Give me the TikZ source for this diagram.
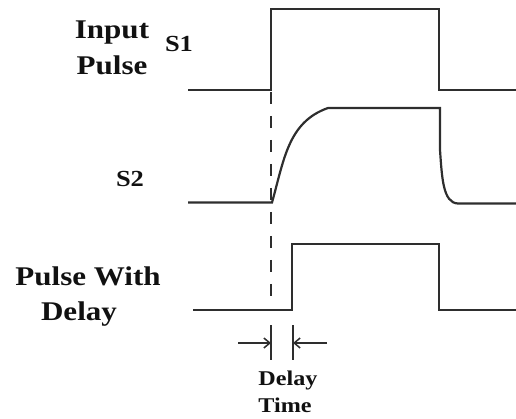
\documentclass[tikz,border=0pt]{standalone}
\usepackage{fontspec}
\usepackage{graphicx}
\setmainfont{Liberation Serif}
\usetikzlibrary{arrows.meta}
\definecolor{wave}{HTML}{2E2E2E}
\definecolor{ink}{HTML}{111111}
\tikzset{
  wavel/.style={draw=wave, line width=2.2pt, line join=miter},
  lblbig/.style={anchor=base, inner sep=0pt, text=ink, font=\bfseries\fontsize{27}{30}\selectfont},
  lblmid/.style={anchor=base, inner sep=0pt, text=ink, font=\bfseries\fontsize{23}{26}\selectfont},
  lblsmall/.style={anchor=base, inner sep=0pt, text=ink, font=\bfseries\fontsize{21}{24}\selectfont},
  marker/.style={draw=wave, line width=2.2pt},
  dimarrow/.style={draw=wave, line width=1.5pt, -{Straight Barb[length=6pt,width=10pt,line width=1.5pt]}},
}
\newcommand{\hs}[1]{\scalebox{1.15}[1]{#1}}
\begin{document}
\begin{tikzpicture}[x=1pt,y=-1pt]
\useasboundingbox (0,0) rectangle (516,419);
% labels
\node[lblbig] (in1) at (112,39) {\hs{Input}};
\node[lblbig] (in2) at (112,75) {\hs{Pulse}};
\node[lblmid] (s1) at (179,52) {\hs{S1}};
\node[lblmid] (s2) at (130,187) {\hs{S2}};
\node[lblbig] (pw1) at (88,286) {\hs{Pulse With}};
\node[lblbig] (pw2) at (79,320) {\hs{Delay}};
\node[lblsmall] (dt1) at (288,385) {\hs{Delay}};
\node[lblsmall] (dt2) at (285,412) {\hs{Time}};
% S1 input pulse
\draw[wavel] (188,90) -- (271,90) -- (271,9) -- (439,9) -- (439,90) -- (516,90);
% S2
\draw[wavel] (188,202.5) -- (272,202.5)
  .. controls (284,160) and (288,122) .. (328,108) -- (440,108) -- (440,150)
  .. controls (442,178) and (443,203) .. (458,203.5) -- (516,203.5);
% delayed pulse
\draw[wavel] (193,310) -- (292,310) -- (292,244) -- (439,244) -- (439,310) -- (516,310);
% dashed reference line
\draw[draw=wave, line width=2.6pt, dash pattern=on 12pt off 12pt, dash phase=-2pt] (271,90) -- (271,297);
% delay markers
\coordinate (ml) at (271,343);
\coordinate (mr) at (293,343);
\draw[marker] (271,325) -- (271,360);
\draw[marker] (293,325) -- (293,360);
\coordinate (al) at (238,343);
\coordinate (ar) at (327,343);
\draw[dimarrow] (al) -- (ml);
\draw[dimarrow] (ar) -- (mr);
\end{tikzpicture}
\end{document}
